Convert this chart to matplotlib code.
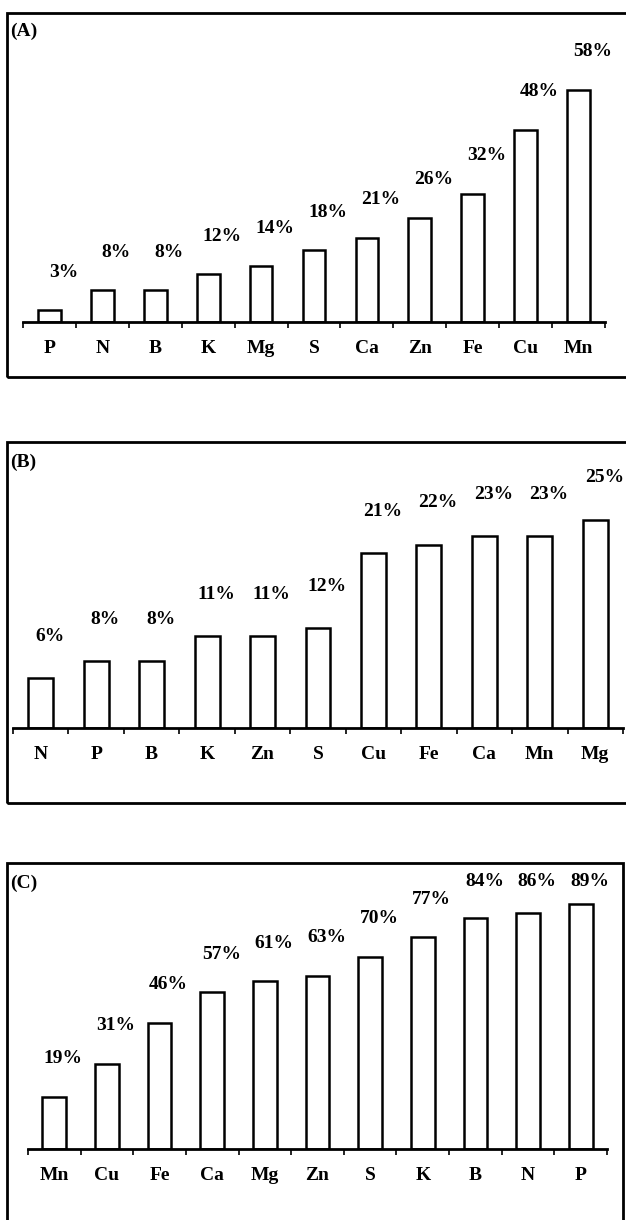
import matplotlib.pyplot as plt
from matplotlib.patches import Rectangle
import numpy as np

# panel (A)
elems_a = ['P', 'N', 'B', 'K', 'Mg', 'S', 'Ca', 'Zn', 'Fe', 'Cu', 'Mn']
vals_a = [3, 8, 8, 12, 14, 18, 21, 26, 32, 48, 58]
# panel (B)
elems_b = ['N', 'P', 'B', 'K', 'Zn', 'S', 'Cu', 'Fe', 'Ca', 'Mn', 'Mg']
vals_b = [6, 8, 8, 11, 11, 12, 21, 22, 23, 23, 25]
# panel (C)
elems_c = ['Mn', 'Cu', 'Fe', 'Ca', 'Mg', 'Zn', 'S', 'K', 'B', 'N', 'P']
vals_c = [19, 31, 46, 57, 61, 63, 70, 77, 84, 86, 89]

plt.rcParams['font.family'] = ['Liberation Serif', 'DejaVu Serif']
plt.rcParams['font.weight'] = 'bold'

W, H = 626, 1220
fig = plt.figure(figsize=(W / 100, H / 100), dpi=100)


def box(x0, y0, x1, y1):
    # pixel box (top-left origin) -> figure fraction rect
    return [x0 / W, 1 - y1 / H, (x1 - x0) / W, (y1 - y0) / H]


def panel(elems, vals, x0, x1, top, base, scale, bw, label_off, dx, cap=None):
    ax = fig.add_axes(box(x0, top, x1, base))
    x = np.arange(len(elems))
    ax.bar(x, vals, width=bw, color='white', edgecolor='black', linewidth=1.8)
    ax.set_xlim(-0.5, len(elems) - 0.5)
    ax.set_ylim(0, (base - top) / scale)
    for s in ['top', 'left', 'right']:
        ax.spines[s].set_visible(False)
    ax.spines['bottom'].set_linewidth(2)
    ax.set_yticks([])
    ax.set_xticks(x)
    ax.set_xticklabels(elems, fontsize=14, fontweight='bold')
    ax.tick_params(axis='x', which='major', length=0, pad=13)
    ax.set_xticks(np.arange(len(elems) + 1) - 0.5, minor=True)
    ax.tick_params(axis='x', which='minor', length=4, width=1.2, direction='out')
    for xi, v in zip(x, vals):
        y = v + label_off / scale
        if cap is not None:
            y = min(y, cap)
        ax.annotate(f'{v}%', (xi, y), xytext=(dx, 0), textcoords='offset pixels',
                    ha='center', va='center', fontsize=14, fontweight='bold',
                    annotation_clip=False)
    return ax


panel(elems_a, vals_a, 23, 605, 13, 322, 4.0, 0.43, 38, 14)
panel(elems_b, vals_b, 13, 623, 442, 728, 8.33, 0.45, 42, 9)
panel(elems_c, vals_c, 28, 607, 863, 1149, 2.75, 0.45, 38, 9,
      cap=(1149 - 882) / 2.75)

# frames round the panels
for (x0, y0, x1, y1) in [(7, 13, 640, 377), (7, 442, 640, 803), (7, 863, 623, 1240)]:
    fig.add_artist(Rectangle((x0 / W, 1 - y1 / H), (x1 - x0) / W, (y1 - y0) / H,
                             transform=fig.transFigure, fill=False,
                             edgecolor='black', linewidth=2))

for lab, y in [('(A)', 31), ('(B)', 462), ('(C)', 883)]:
    fig.text(10 / W, 1 - y / H, lab, ha='left', va='center', fontsize=14,
             fontweight='bold')

fig.savefig('out.png', dpi=100)
